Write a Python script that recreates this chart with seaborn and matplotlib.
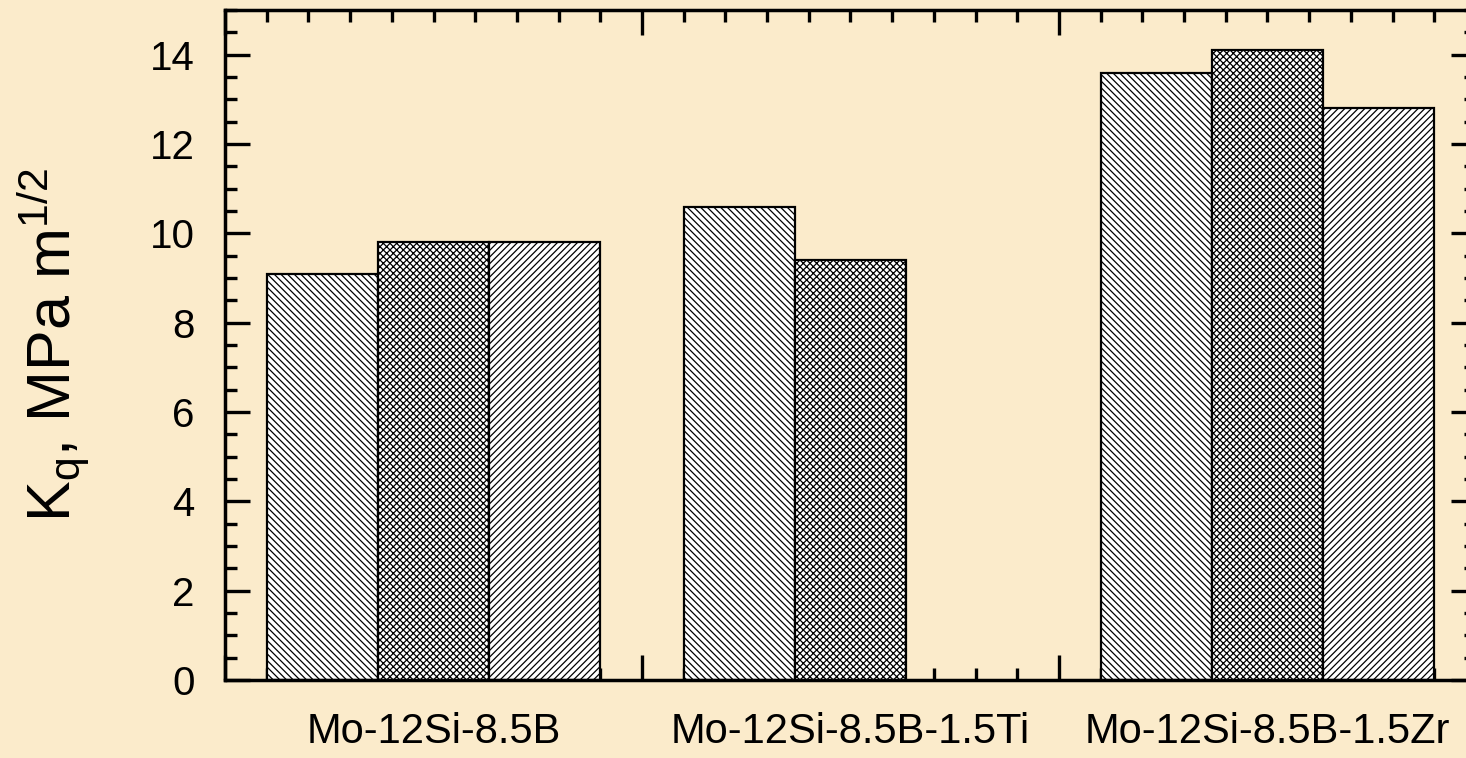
import numpy as np
import pandas as pd
import matplotlib
matplotlib.use("Agg")
import matplotlib.pyplot as plt
from matplotlib.ticker import FixedLocator, FuncFormatter
import seaborn as sns

# Fracture toughness of the three alloys, one value per specimen
alloys = ["Mo-12Si-8.5B", "Mo-12Si-8.5B-1.5Ti", "Mo-12Si-8.5B-1.5Zr"]
specimens = ["S1", "S2", "S3"]
kq_s1 = [9.1, 10.6, 13.6]
kq_s2 = [9.8, 9.4, 14.1]
kq_s3 = [9.8, np.nan, 12.8]
hatches = ["\\\\\\\\\\", "xxxxx", "/////"]

y_ticks = [0, 2, 4, 6, 8, 10, 12, 14]

df = pd.DataFrame({
    "alloy": alloys * 3,
    "specimen": [s for s in specimens for _ in alloys],
    "kq": kq_s1 + kq_s2 + kq_s3,
})

sns.set_style("ticks")
bg = "#FBEBCB"
plt.rcParams["font.family"] = ["Liberation Sans", "DejaVu Sans"]
plt.rcParams["mathtext.fontset"] = "custom"
plt.rcParams["mathtext.rm"] = "Liberation Sans"
plt.rcParams["mathtext.it"] = "Liberation Sans:italic"
plt.rcParams["hatch.linewidth"] = 0.9
plt.rcParams["hatch.color"] = "black"
plt.rcParams["text.color"] = "black"
plt.rcParams["axes.labelcolor"] = "black"
plt.rcParams["xtick.color"] = "black"
plt.rcParams["ytick.color"] = "black"
plt.rcParams["xtick.labelcolor"] = "black"
plt.rcParams["ytick.labelcolor"] = "black"

fig = plt.figure(figsize=(14.66, 7.58), dpi=100, facecolor=bg)
ax = fig.add_axes([0.15348, 0.1029, 0.85334, 0.88391])
ax.set_facecolor(bg)

sns.barplot(data=df, x="alloy", y="kq", hue="specimen",
            order=alloys, hue_order=specimens,
            palette=["white"] * 3, saturation=1, width=0.8,
            errorbar=None, legend=False,
            edgecolor="black", linewidth=1.6, ax=ax)

for container, h in zip(ax.containers, hatches):
    for bar in container:
        bar.set_hatch(h)
        bar.set_edgecolor("black")

ax.set_xlim(-0.5, 2.5)
ax.set_ylim(0, 15)

# x axis: long ticks between groups, fine ticks every tenth, labels under groups
ax.xaxis.set_major_locator(FixedLocator([-0.5, 0.5, 1.5, 2.5]))
ax.xaxis.set_major_formatter(FuncFormatter(lambda v, p: ""))
minor_x = [round(-0.5 + 0.1 * i, 2) for i in range(31)]
minor_x = [v for v in minor_x if abs(v - round(v - 0.5) - 0.5) > 1e-6]
ax.xaxis.set_minor_locator(FixedLocator(minor_x))
label_map = {i: name for i, name in enumerate(alloys)}


def group_label(v, pos):
    k = int(round(v))
    if abs(v - k) < 1e-6 and k in label_map:
        return label_map[k]
    return ""


ax.xaxis.set_minor_formatter(FuncFormatter(group_label))

ax.set_yticks(y_ticks)
ax.yaxis.set_minor_locator(FixedLocator(np.arange(0, 15.01, 0.5)))

for side in ["left", "right", "top", "bottom"]:
    ax.spines[side].set_visible(True)
    ax.spines[side].set_linewidth(2.5)
    ax.spines[side].set_color("black")

ax.tick_params(axis="both", which="both", direction="in", color="black",
               top=True, right=True, width=2.4)
ax.tick_params(axis="both", which="major", length=18)
ax.tick_params(axis="both", which="minor", length=8.6)
ax.tick_params(axis="y", which="major", labelsize=29, pad=22)
ax.tick_params(axis="x", which="minor", labelsize=30, pad=23)

ax.set_xlabel("")
ax.set_ylabel(r"K$_\mathregular{q}$, MPa m$^\mathregular{1/2}$", fontsize=44)
ax.yaxis.set_label_coords(-0.106, 0.5)

fig.savefig("out.png", dpi=100, facecolor=bg)
